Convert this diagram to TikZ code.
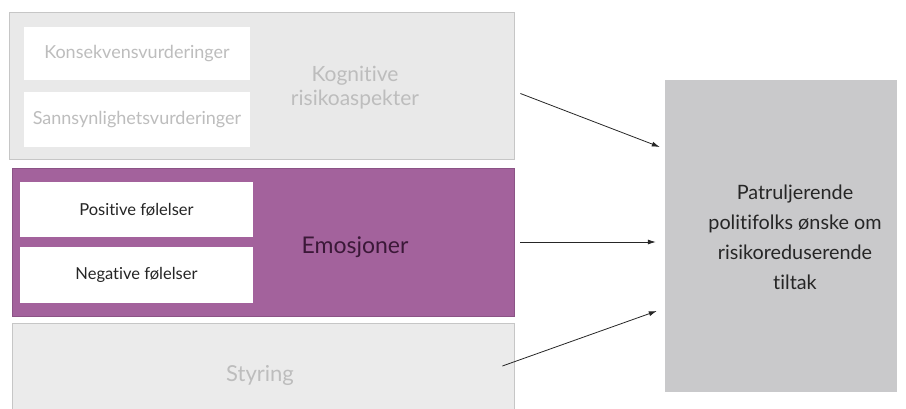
\documentclass[tikz,border=0pt]{standalone}
\usepackage{fontspec}
\setmainfont{Lato}[Ligatures={NoCommon}]
\usepackage{xcolor}
\usetikzlibrary{arrows.meta, calc, positioning}

\definecolor{boxgrey}{HTML}{E9E9E9}
\definecolor{edgegrey}{HTML}{C6C6C6}
\definecolor{fadetext}{HTML}{BDBDBD}
\definecolor{emopurple}{HTML}{A3629C}
\definecolor{emotext}{HTML}{3B1838}
\definecolor{goalgrey}{HTML}{C9C9CB}

\tikzset{
  panel/.style={draw=edgegrey, line width=0.8pt, minimum width=#1, inner sep=0pt},
  whitebox/.style={fill=white, minimum width=226pt, minimum height=53pt, inner sep=0pt, font=\fontsize{18}{21}\selectfont},
  arr/.style={-{Latex[length=8pt,width=5pt]}, line width=0.8pt, black!85}
}

\begin{document}
\begin{tikzpicture}[x=1pt, y=1pt]
\useasboundingbox (0,0) rectangle (906,408);

% Panels
\node[panel=505pt, fill=boxgrey, minimum height=147pt] (kog) at (261.5,322.5) {};
\node[panel=502pt, fill=emopurple, draw=emopurple!85!black, minimum height=148pt] (emo) at (263,166) {};
\node[panel=502pt, fill=boxgrey!90!white, minimum height=90pt] (sty) at (263,40) {};

% Inner boxes
\node[whitebox, text=fadetext] (kons) at (137,354) {Konsekvensvurderinger};
\node[whitebox, text=fadetext, minimum height=55pt] (sann) at (137,288.5) {Sannsynlighetsvurderinger};
\node[whitebox, minimum width=233pt, minimum height=55pt, text=black!85, font=\fontsize{16.5}{20}\selectfont] (pos) at (136.5,198.5) {Positive følelser};
\node[whitebox, minimum width=233pt, minimum height=56pt, text=black!85, font=\fontsize{16.5}{20}\selectfont] (neg) at (136.5,133) {Negative følelser};

% Labels
\node[text=fadetext, align=center, font=\fontsize{21}{24}\selectfont] (kogtxt) at (355,320) {Kognitive\\risikoaspekter};
\node[text=emotext, font=\fontsize{23}{27}\selectfont] (emotxt) at (355,161) {Emosjoner};
\node[text=fadetext, font=\fontsize{22}{26}\selectfont] (stytxt) at (260,33) {Styring};

% Goal
\node[fill=goalgrey, minimum width=232pt, minimum height=312pt, inner sep=0pt] (goal) at (781,172) {};
\node[align=center, text=black!85, font=\fontsize{19.8}{30}\selectfont] (goaltxt) at (795,171) {Patruljerende\\politifolks ønske om\\risikoreduserende\\tiltak};

% Arrows
\draw[arr] ([shift={(6,-8)}]kog.east) -- ([shift={(-5,89)}]goal.west);
\draw[arr] ([xshift=6pt]emo.east) -- ([xshift=-9pt]emo.east -| goal.west);
\draw[arr] ([shift={(-12,2)}]sty.east) -- ([shift={(-8,-75)}]goal.west);
\end{tikzpicture}
\end{document}
